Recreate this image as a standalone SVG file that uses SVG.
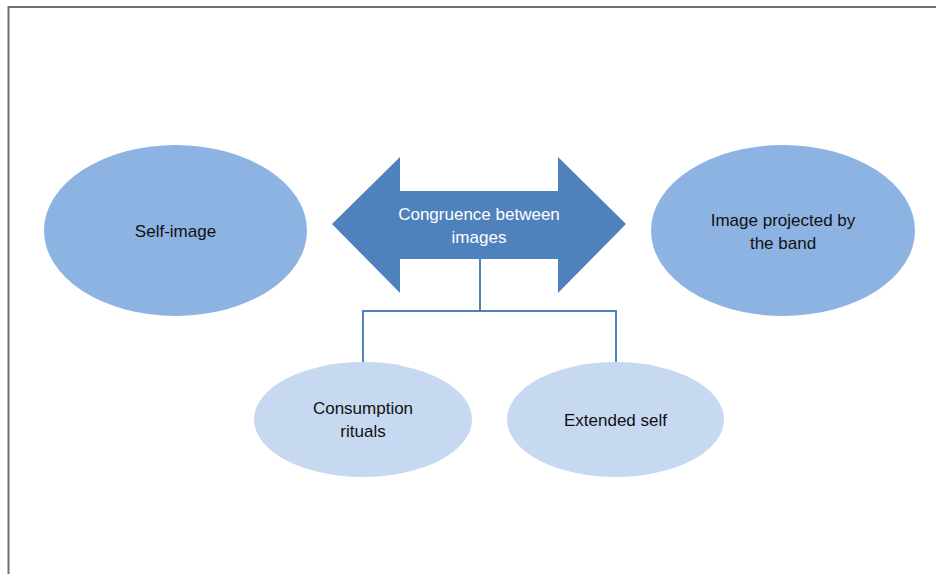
<svg xmlns="http://www.w3.org/2000/svg" width="936" height="574" viewBox="0 0 936 574">
<style>
.t{font-family:"Liberation Sans",Arial,sans-serif;font-size:17px;fill:#111;text-anchor:middle}
.w{fill:#fff}
.big{fill:#8db3e2}
.small{fill:#c6d9f1}
.conn{fill:none;stroke:#4f81bd;stroke-width:2}
</style>
<rect width="936" height="574" fill="#fff"/>
<path d="M8.5,574 V7 H936" fill="none" stroke="#707070" stroke-width="2"/>
<g id="self-image">
<ellipse class="big" cx="175.5" cy="230.5" rx="131.5" ry="85.5"/>
<text class="t" x="175.5" y="237">Self-image</text>
</g>
<g id="band-image">
<ellipse class="big" cx="783" cy="230.5" rx="132" ry="85.5"/>
<text class="t" x="783" y="226">Image projected by</text>
<text class="t" x="783" y="249">the band</text>
</g>
<g id="congruence">
<polygon points="332,224 400,157 400,191 558,191 558,157 626,224 558,293 558,259 400,259 400,293" fill="#4f81bd"/>
<text class="t w" x="479" y="220">Congruence between</text>
<text class="t w" x="479" y="243">images</text>
</g>
<g id="connectors">
<path class="conn" d="M480,259 V311 M363,362 V311 H616 V362"/>
</g>
<g id="rituals">
<ellipse class="small" cx="363" cy="419.5" rx="109" ry="57.5"/>
<text class="t" x="363" y="414">Consumption</text>
<text class="t" x="363" y="437">rituals</text>
</g>
<g id="extended-self">
<ellipse class="small" cx="615.5" cy="419.5" rx="108.5" ry="57.5"/>
<text class="t" x="615.5" y="426">Extended self</text>
</g>
</svg>
